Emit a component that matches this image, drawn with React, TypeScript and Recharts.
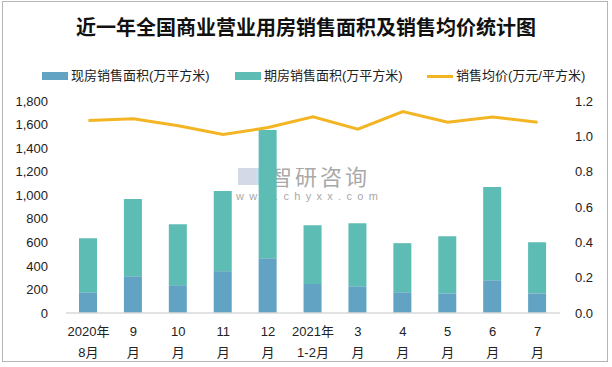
import { ComposedChart, Bar, Line, XAxis, YAxis } from 'recharts'

const months = ['2020年\n8月', '9\n月', '10\n月', '11\n月', '12\n月', '2021年\n1-2月', '3\n月', '4\n月', '5\n月', '6\n月', '7\n月']
const spotArea = [176, 312, 236, 355, 465, 247, 227, 176, 167, 278, 167]
const futureArea = [459, 655, 518, 680, 1088, 499, 536, 417, 485, 791, 433]
const avgPrice = [1.09, 1.1, 1.06, 1.01, 1.05, 1.11, 1.04, 1.14, 1.08, 1.11, 1.08]
const leftTicks = [0, 200, 400, 600, 800, 1000, 1200, 1400, 1600, 1800]
const rightTicks = [0, 0.2, 0.4, 0.6, 0.8, 1.0, 1.2]

const data = months.map((m, i) => ({
  month: m,
  spot: spotArea[i],
  future: futureArea[i],
  price: avgPrice[i],
}))

const FONT = "'Liberation Sans', 'Noto Sans CJK SC', sans-serif"
const SPOT = '#62a3c3'
const FUTURE = '#5dbcb4'
const PRICE = '#f3b523'

function MonthTick(props: any) {
  const { x, y, payload } = props
  const lines = String(payload.value).split('\n')
  return (
    <text x={x} y={y} textAnchor="middle" fill="#222" fontSize={13} fontFamily={FONT}>
      {lines.map((l, i) => (
        <tspan key={i} x={x} dy={i === 0 ? 15 : 21}>{l}</tspan>
      ))}
    </text>
  )
}

function LegendBox() {
  const items = [
    { x: 42, label: '现房销售面积(万平方米)', color: SPOT, line: false },
    { x: 235, label: '期房销售面积(万平方米)', color: FUTURE, line: false },
    { x: 427, label: '销售均价(万元/平方米)', color: PRICE, line: true },
  ]
  return (
    <div style={{ position: 'absolute', left: 0, top: 67, width: 612, height: 18, fontFamily: FONT, fontSize: 13, color: '#222', lineHeight: '18px' }}>
      {items.map((it) => (
        <div key={it.label} style={{ position: 'absolute', left: it.x, top: 0, display: 'flex', alignItems: 'center', whiteSpace: 'nowrap' }}>
          <span style={{ display: 'inline-block', width: 26, height: it.line ? 3 : 8, background: it.color, marginRight: 3 }} />
          <span>{it.label}</span>
        </div>
      ))}
    </div>
  )
}

export default function App() {
  return (
    <div style={{ position: 'absolute', left: 0, top: 0, width: 612, height: 367, background: '#fff' }}>
      <div style={{ position: 'absolute', left: 2, top: 1, width: 606, height: 361, border: '1px solid #b5b5b5', boxSizing: 'border-box' }} />
      <div style={{ position: 'absolute', left: 0, top: 14, width: 612, textAlign: 'center', fontFamily: "'Noto Sans CJK SC', sans-serif", fontWeight: 700, fontSize: 20, color: '#111', lineHeight: '26px' }}>
        近一年全国商业营业用房销售面积及销售均价统计图
      </div>
      <LegendBox />
      {/* watermark */}
      <div style={{ position: 'absolute', left: 238, top: 168, width: 18, height: 17, background: '#c8cfe0', opacity: 0.8 }} />
      <div style={{ position: 'absolute', left: 256, top: 168, width: 12, height: 17, background: '#b9d9ee', opacity: 0.8 }} />
      <div style={{ position: 'absolute', left: 270, top: 163, fontFamily: "'Noto Sans CJK SC', sans-serif", fontSize: 22, color: '#a9a9a9', letterSpacing: 3, lineHeight: '24px' }}>
        智研咨询
      </div>
      <div style={{ position: 'absolute', left: 236, top: 190, fontFamily: FONT, fontSize: 11, color: '#a9a9a9', letterSpacing: 5.3, lineHeight: '12px' }}>
        www.chyxx.com
      </div>
      <div style={{ position: 'absolute', left: 0, top: 0 }}>
        <ComposedChart width={612} height={367} data={data} margin={{ top: 101, right: 7, bottom: 9, left: 0 }} barSize={18}>
          <XAxis
            dataKey="month"
            tick={<MonthTick />}
            tickLine={false}
            axisLine={{ stroke: '#d9d9d9', strokeWidth: 1.5 }}
            interval={0}
            height={45}
          />
          <YAxis
            yAxisId="area"
            orientation="left"
            domain={[0, 1800]}
            ticks={leftTicks}
            tick={{ fill: '#222', fontSize: 13, fontFamily: FONT }}
            tickFormatter={(v: number) => v.toLocaleString('en-US')}
            tickLine={false}
            axisLine={false}
            tickMargin={12}
            width={66}
          />
          <YAxis
            yAxisId="price"
            orientation="right"
            domain={[0, 1.2]}
            ticks={rightTicks}
            tick={{ fill: '#222', fontSize: 13, fontFamily: FONT }}
            tickFormatter={(v: number) => v.toFixed(1)}
            tickLine={false}
            axisLine={false}
            tickMargin={9}
            width={45}
          />
          <Bar yAxisId="area" dataKey="spot" stackId="a" fill={SPOT} isAnimationActive={false} />
          <Bar yAxisId="area" dataKey="future" stackId="a" fill={FUTURE} isAnimationActive={false} />
          <Line
            yAxisId="price"
            type="linear"
            dataKey="price"
            stroke={PRICE}
            strokeWidth={3}
            dot={false}
            isAnimationActive={false}
          />
        </ComposedChart>
      </div>
    </div>
  )
}
